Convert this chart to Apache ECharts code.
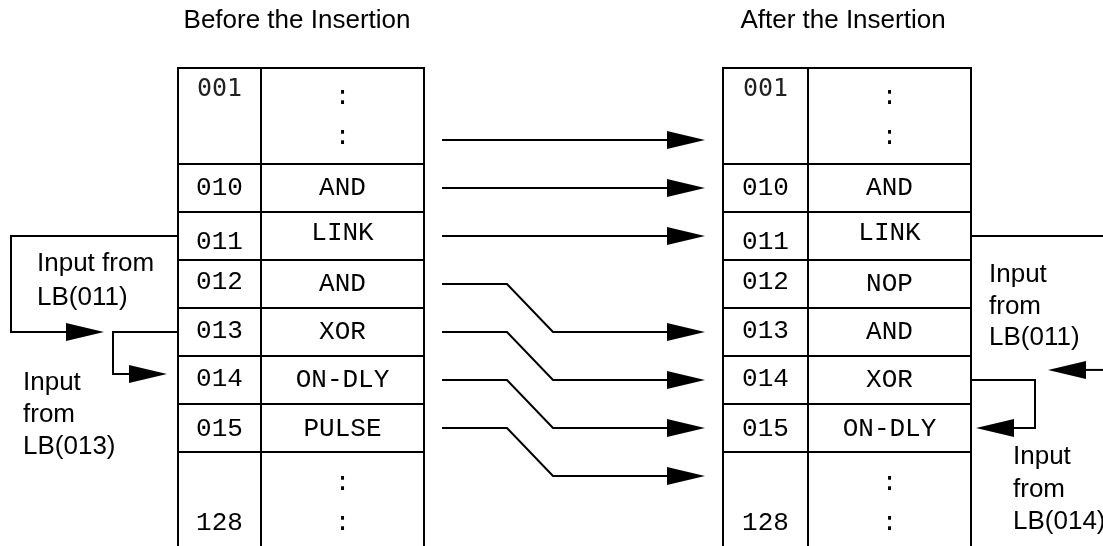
<!DOCTYPE html>
<html>
<head>
<meta charset="utf-8">
<script src="https://cdn.jsdelivr.net/npm/echarts@6/dist/echarts.min.js"></script>
<style>
  html, body { margin: 0; padding: 0; background: #fff; }
  #chart { width: 1103px; height: 546px; }
</style>
</head>
<body>
<div id="chart"></div>
<script>
// table contents, one entry per row
var addrBefore = ["001", "010", "011", "012", "013", "014", "015", "128"];
var opsBefore = [":", "AND", "LINK", "AND", "XOR", "ON-DLY", "PULSE", ":"];
var addrAfter = ["001", "010", "011", "012", "013", "014", "015", "128"];
var opsAfter = [":", "AND", "LINK", "NOP", "AND", "XOR", "ON-DLY", ":"];
// rows measured in lanes (one lane = one line of the table)
var rowFirstLane = [0, 2, 3, 4, 5, 6, 7, 8];
var rowLanes = [2, 1, 1, 1, 1, 1, 1, 2];
// where each instruction goes: lane before -> lane after
var moveFrom = [1, 2, 3, 4, 5, 6, 7];
var moveTo = [1, 2, 3, 5, 6, 7, 8];
// texts
var titles = ["Before the Insertion", "After the Insertion"];
var inputLabels = ["Input from\nLB(011)", "Input\nfrom\nLB(013)", "Input\nfrom\nLB(011)", "Input\nfrom\nLB(014)"];

// ---- layout (pixels across, lanes down) ----
var TOP_PX = 68, LANE_PX = 48, H = 546, W = 1103;
var tables = [
  { left: 178, mid: 261, right: 424, addr: addrBefore, ops: opsBefore },
  { left: 723, mid: 808, right: 971, addr: addrAfter, ops: opsAfter }
];
var MONO = '26px "Liberation Mono", "Courier New", monospace';
var SANS = '26px "Liberation Sans", Arial, sans-serif';
var ARROW_L = 38, ARROW_W = 9;

// text offsets inside the rows (lanes)
var addrLane = [0.44, 2.5, 3.62, 4.47, 5.48, 6.48, 7.52, 9.48];
var opLane = [[0.6, 1.44], [2.5], [3.45], [4.5], [5.5], [6.5], [7.52], [8.65, 9.48]];

// connector paths: [x, lane] points, arrow at the end when arrow = true
var paths = [];
for (var i = 0; i < moveFrom.length; i++) {
  var a = moveFrom[i] + 0.5, b = moveTo[i] + 0.5;
  if (a === b) {
    paths.push({ pts: [[442, a], [705, b]], arrow: true });
  } else {
    paths.push({ pts: [[442, a], [507, a], [553, b], [705, b]], arrow: true });
  }
}
// logic bit feedback before the insertion
paths.push({ pts: [[178, 3.5], [11, 3.5], [11, 5.5], [104, 5.5]], arrow: true });
paths.push({ pts: [[178, 5.5], [113, 5.5], [113, 6.375], [167, 6.375]], arrow: true });
// after the insertion
paths.push({ pts: [[971, 3.5], [1110, 3.5]], arrow: false });
paths.push({ pts: [[1110, 6.29], [1048, 6.29]], arrow: true });
paths.push({ pts: [[971, 6.5], [1035, 6.5], [1035, 7.5], [976, 7.5]], arrow: true });

var labelPos = [
  { x: 37, lane: 4.44, lh: 34 },
  { x: 23, lane: 7.23, lh: 32 },
  { x: 989, lane: 4.97, lh: 31.5 },
  { x: 1013, lane: 8.78, lh: 32.5 }
];

function renderTable(params, api) {
  var t = tables[params.dataIndex];
  var children = [];
  var y0 = api.coord([0, 0])[1], y1 = api.coord([0, 10.5])[1];
  var xl = api.coord([t.left, 0])[0], xm = api.coord([t.mid, 0])[0], xr = api.coord([t.right, 0])[0];
  var st = { stroke: "#000", lineWidth: 2, fill: null };
  [xl, xm, xr].forEach(function (x) {
    children.push({ type: "line", shape: { x1: x, y1: y0 - 1, x2: x, y2: y1 }, style: st });
  });
  var seps = [0].concat(rowFirstLane.slice(1));
  seps.forEach(function (l) {
    var y = api.coord([0, l])[1];
    children.push({ type: "line", shape: { x1: xl - 1, y1: y, x2: xr + 1, y2: y }, style: st });
  });
  for (var r = 0; r < t.addr.length; r++) {
    var p = api.coord([(t.left + t.mid) / 2, addrLane[r]]);
    children.push({
      type: "text", x: p[0], y: p[1],
      style: {
        text: t.addr[r], fill: r === 0 ? "#222" : "#000",
        font: r === 0 ? '25px "DejaVu Sans Mono", monospace' : MONO,
        align: "center", verticalAlign: "middle"
      }
    });
    opLane[r].forEach(function (l) {
      var q = api.coord([(t.mid + t.right) / 2, l]);
      children.push({
        type: "text", x: q[0], y: q[1],
        style: { text: t.ops[r], fill: "#000", font: MONO, align: "center", verticalAlign: "middle" }
      });
    });
  }
  var tp = api.coord([(t.left + t.right) / 2 - 4, -0.98]);
  children.push({
    type: "text", x: tp[0], y: tp[1],
    style: { text: titles[params.dataIndex], fill: "#000", font: SANS, align: "center", verticalAlign: "middle" }
  });
  return { type: "group", children: children };
}

function renderPath(params, api) {
  var p = paths[params.dataIndex];
  var pts = p.pts.map(function (d) { return api.coord(d); });
  var children = [];
  if (p.arrow) {
    var tip = pts[pts.length - 1], prev = pts[pts.length - 2];
    var dx = tip[0] - prev[0], dy = tip[1] - prev[1];
    var len = Math.sqrt(dx * dx + dy * dy);
    dx /= len; dy /= len;
    var bx = tip[0] - dx * ARROW_L, by = tip[1] - dy * ARROW_L;
    pts[pts.length - 1] = [bx + dx * 2, by + dy * 2];
    children.push({
      type: "polygon",
      shape: { points: [tip, [bx - dy * ARROW_W, by + dx * ARROW_W], [bx + dy * ARROW_W, by - dx * ARROW_W]] },
      style: { fill: "#000" }
    });
  }
  children.unshift({
    type: "polyline", shape: { points: pts },
    style: { stroke: "#000", lineWidth: 2, fill: null, lineJoin: "miter" }
  });
  return { type: "group", children: children };
}

function renderLabel(params, api) {
  var l = labelPos[params.dataIndex];
  var p = api.coord([l.x, l.lane]);
  return {
    type: "text", x: p[0], y: p[1],
    style: {
      text: inputLabels[params.dataIndex], fill: "#000", font: SANS,
      align: "left", verticalAlign: "middle", lineHeight: l.lh
    }
  };
}

var chart = echarts.init(document.getElementById("chart"));
var option = {
  animation: false,
  grid: { left: 0, right: 0, top: 0, bottom: 0 },
  xAxis: { type: "value", min: 0, max: W, show: false },
  yAxis: { type: "value", min: -TOP_PX / LANE_PX, max: (H - TOP_PX) / LANE_PX, inverse: true, show: false },
  series: [
    { type: "custom", renderItem: renderTable, data: tables.map(function (t, i) { return [i]; }), clip: true, silent: true },
    { type: "custom", renderItem: renderPath, data: paths.map(function (p, i) { return [i]; }), clip: true, silent: true },
    { type: "custom", renderItem: renderLabel, data: inputLabels.map(function (s, i) { return [i]; }), silent: true }
  ]
};
chart.setOption(option);
window.addEventListener("resize", function () {
  chart.resize();
});
</script>
</body>
</html>
